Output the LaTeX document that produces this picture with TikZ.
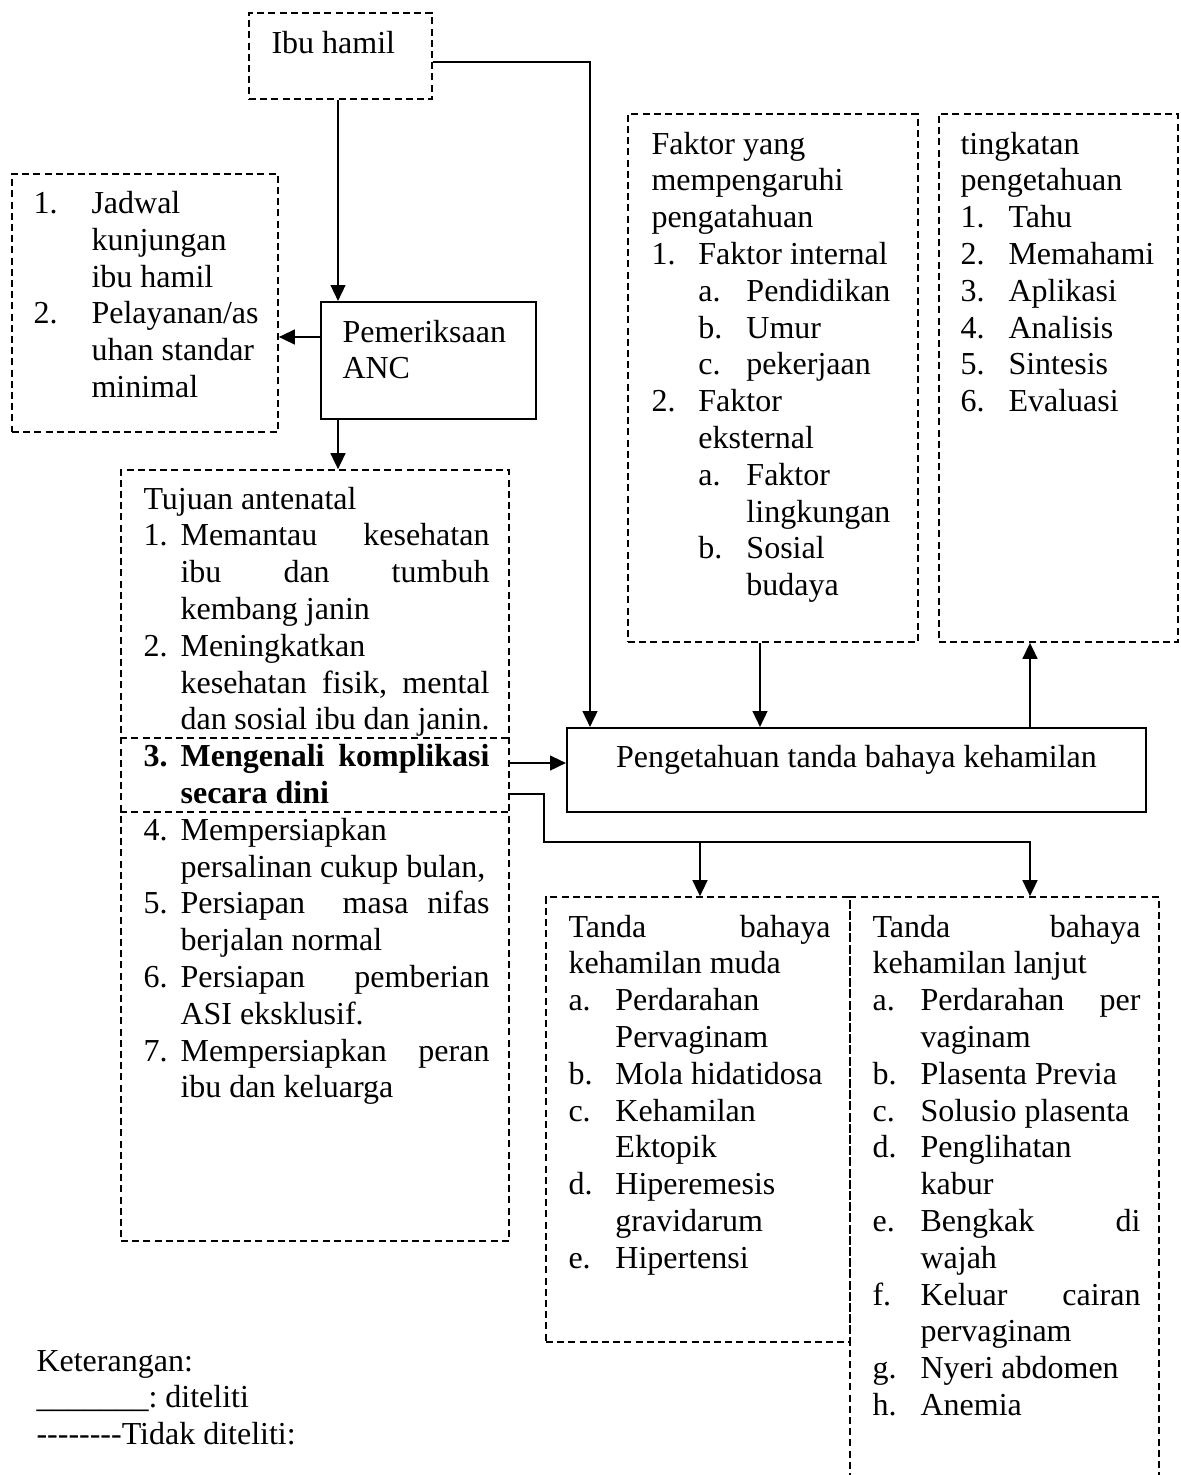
\documentclass[tikz,border=0pt]{standalone}
\usepackage{fontspec}
\setmainfont{Liberation Serif}
\usetikzlibrary{arrows.meta,fit}
\newcommand\sps{\frenchspacing\spaceskip=3pt plus 3pt minus 0.8pt\relax}
\newcommand\Li[3]{\noindent\sps\makebox[#1][l]{#2}\makebox[\dimexpr\hsize-#1\relax][l]{#3}\par}
\newcommand\Lj[3]{\noindent\sps\makebox[#1][l]{#2}\makebox[\dimexpr\hsize-#1\relax][s]{#3}\par}
\newcommand\hy{\mbox{-}}
\tikzset{
  dbox/.style={draw, line width=0.6pt, dash pattern=on 2.6pt off 1.6pt, inner sep=0pt},
  sbox/.style={draw, line width=0.75pt, inner sep=0pt},
  dline/.style={line width=0.6pt, dash pattern=on 2.6pt off 1.6pt},
  conn/.style={line width=0.9pt},
  arr/.style={line width=0.9pt, -{Triangle[length=6pt,width=5.5pt]}},
  txt/.style={anchor=base west, inner sep=0pt, font=\fontsize{12pt}{13.8pt}\selectfont},
}
\begin{document}
\begin{tikzpicture}[x=0.375pt, y=-0.375pt]
\useasboundingbox (0,0) rectangle (1181,1475);
\begin{scope}
\clip (0,0) rectangle (1181,1475);
% boxes
\node[dbox, fit={(249,13) (432,99)}] (ibu) {};
\node[dbox, fit={(12,174) (278,432)}] (jad) {};
\node[sbox, fit={(321,302) (536,419)}] (pem) {};
\node[dbox, fit={(121,470) (509,1241)}] (tuj) {};
\node[dbox, fit={(628,114) (918,642)}] (fak) {};
\node[dbox, fit={(939,114) (1178,642)}] (ting) {};
\node[sbox, fit={(567,728) (1146,812)}] (peng) {};
\node[dbox, fit={(546,897) (850,1342)}] (muda) {};
\node[dbox, fit={(850,897) (1159,1495)}] (lanj) {};
\draw[dline] (tuj.west |- 0,738) -- (tuj.east |- 0,738);
\draw[dline] (tuj.west |- 0,812) -- (tuj.east |- 0,812);

% texts
\node[txt] (tibu) at (271,53) {Ibu hamil};
\node[txt, text width=90pt] (tjad) at (33,213.5) {%
\Li{21.75pt}{1.}{Jadwal}
\Li{21.75pt}{}{kunjungan}
\Li{21.75pt}{}{ibu hamil}
\Li{21.75pt}{2.}{Pelayanan/as}
\Li{21.75pt}{}{uhan standar}
\Li{21.75pt}{}{minimal}};
\node[txt, text width=70pt] (tpem) at (342,342) {%
\Li{0pt}{}{Pemeriksaan}
\Li{0pt}{}{ANC}};
\node[txt, text width=99pt] (tfak) at (651,154) {%
\Li{0pt}{}{Faktor yang}
\Li{0pt}{}{mempengaruhi}
\Li{0pt}{}{pengatahuan}
\Li{17.6pt}{1.}{Faktor internal}
\Li{35.6pt}{\hspace{17.6pt}a.}{Pendidikan}
\Li{35.6pt}{\hspace{17.6pt}b.}{Umur}
\Li{35.6pt}{\hspace{17.6pt}c.}{pekerjaan}
\Li{17.6pt}{2.}{Faktor}
\Li{17.6pt}{}{eksternal}
\Li{35.6pt}{\hspace{17.6pt}a.}{Faktor}
\Li{35.6pt}{}{lingkungan}
\Li{35.6pt}{\hspace{17.6pt}b.}{Sosial}
\Li{35.6pt}{}{budaya}};
\node[txt, text width=80pt] (tting) at (960,154) {%
\Li{0pt}{}{tingkatan}
\Li{0pt}{}{pengetahuan}
\Li{18pt}{1.}{Tahu}
\Li{18pt}{2.}{Memahami}
\Li{18pt}{3.}{Aplikasi}
\Li{18pt}{4.}{Analisis}
\Li{18pt}{5.}{Sintesis}
\Li{18pt}{6.}{Evaluasi}};
\node[txt, text width=129.75pt] (ttuj) at (143,509) {%
\Li{0pt}{}{Tujuan antenatal}
\Lj{13.9pt}{1.}{Memantau kesehatan}
\Lj{13.9pt}{}{ibu dan tumbuh}
\Li{13.9pt}{}{kembang janin}
\Li{13.9pt}{2.}{Meningkatkan}
\Lj{13.9pt}{}{kesehatan fisik, mental}
\Lj{13.9pt}{}{dan sosial ibu dan janin.}
{\bfseries\Lj{13.9pt}{3.}{Mengenali komplikasi}
\Li{13.9pt}{}{secara dini}}
\Li{13.9pt}{4.}{Mempersiapkan}
\Li{13.9pt}{}{persalinan cukup bulan,}
\Lj{13.9pt}{5.}{Persiapan\ \ masa nifas}
\Li{13.9pt}{}{berjalan normal}
\Lj{13.9pt}{6.}{Persiapan pemberian}
\Li{13.9pt}{}{ASI eksklusif.}
\Lj{13.9pt}{7.}{Mempersiapkan peran}
\Li{13.9pt}{}{ibu dan keluarga}};
\node[txt, anchor=base] (tpeng) at (856.5,767) {Pengetahuan tanda bahaya kehamilan};
\node[txt, text width=98.25pt] (tmuda) at (568,937) {%
\Lj{0pt}{}{Tanda bahaya}
\Li{0pt}{}{kehamilan muda}
\Li{17.6pt}{a.}{Perdarahan}
\Li{17.6pt}{}{Pervaginam}
\Li{17.6pt}{b.}{Mola hidatidosa}
\Li{17.6pt}{c.}{Kehamilan}
\Li{17.6pt}{}{Ektopik}
\Li{17.6pt}{d.}{Hiperemesis}
\Li{17.6pt}{}{gravidarum}
\Li{17.6pt}{e.}{Hipertensi}};
\node[txt, text width=100.5pt] (tlanj) at (872,937) {%
\Lj{0pt}{}{Tanda bahaya}
\Li{0pt}{}{kehamilan lanjut}
\Lj{18pt}{a.}{Perdarahan per}
\Li{18pt}{}{vaginam}
\Li{18pt}{b.}{Plasenta Previa}
\Li{18pt}{c.}{Solusio plasenta}
\Li{18pt}{d.}{Penglihatan}
\Li{18pt}{}{kabur}
\Lj{18pt}{e.}{Bengkak di}
\Li{18pt}{}{wajah}
\Lj{18pt}{f.}{Keluar cairan}
\Li{18pt}{}{pervaginam}
\Li{18pt}{g.}{Nyeri abdomen}
\Li{18pt}{h.}{Anemia}};
\node[txt, text width=150pt] (tket) at (36,1371) {%
\Li{0pt}{}{Keterangan:}
\Li{0pt}{}{\_\_\_\_\_\_\_: diteliti}
\Li{0pt}{}{\hy\hy\hy\hy\hy\hy\hy\hy Tidak diteliti:}};

% connectors
\draw[arr] (ibu.east |- 0,62) -| (peng.north -| 590,0);
\draw[arr] (ibu.south -| 338,0) -- (pem.north -| 338,0);
\draw[arr] (pem.west |- 0,337) -- (jad.east |- 0,337);
\draw[arr] (pem.south -| 338,0) -- (tuj.north -| 338,0);
\draw[arr] (tuj.east |- 0,763) -- (peng.west |- 0,763);
\coordinate (split) at (700,842);
\draw[conn] (tuj.east |- 0,794) -| (544,842) -- (split);
\draw[arr] (split) -- (muda.north -| split);
\draw[arr] (split) -| (lanj.north -| 1030,0);
\draw[arr] (fak.south -| 760,0) -- (peng.north -| 760,0);
\draw[arr] (peng.north -| 1030,0) -- (ting.south -| 1030,0);
\end{scope}
\end{tikzpicture}
\end{document}
